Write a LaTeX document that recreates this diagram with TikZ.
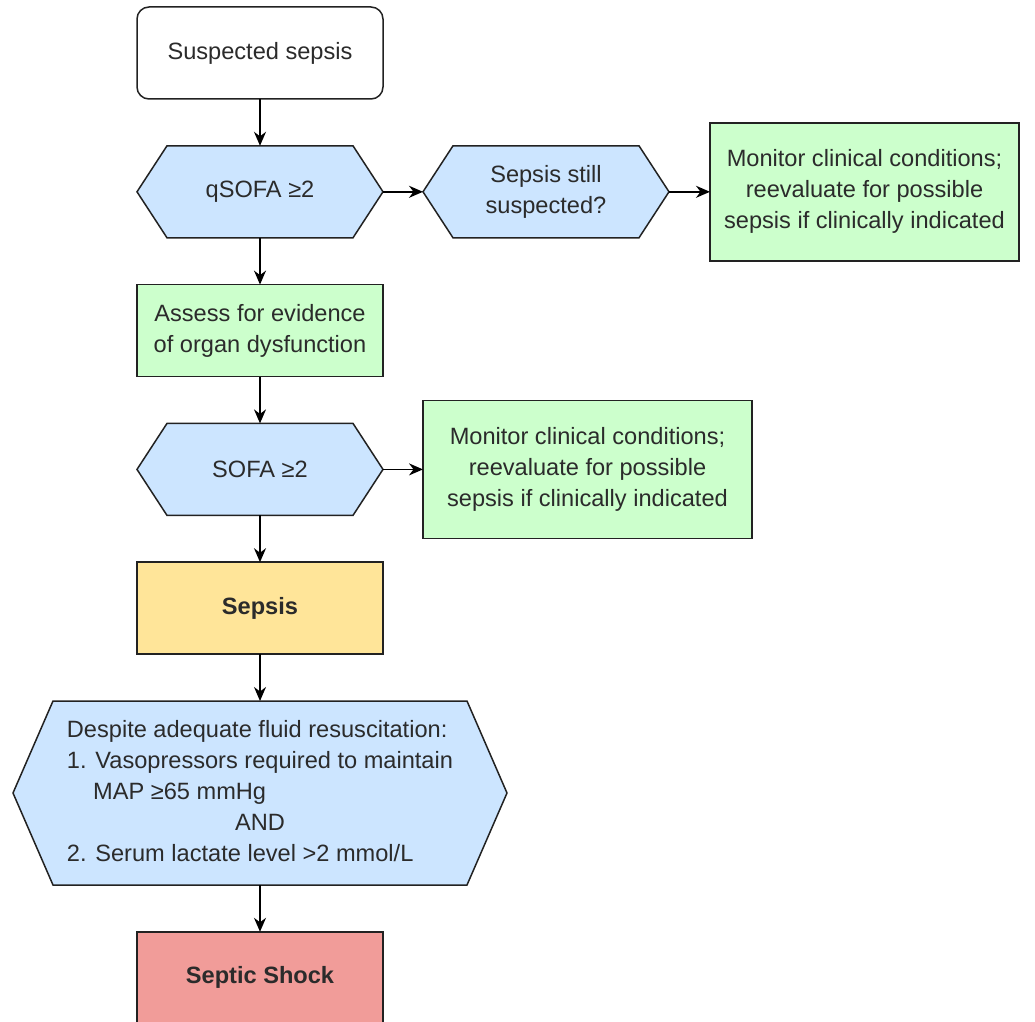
\documentclass[tikz,border=0pt]{standalone}
\usepackage{fontspec}
\setmainfont{Liberation Sans}
\usepackage{xcolor}
\usepackage{tikz}
\usetikzlibrary{positioning, arrows.meta, backgrounds}
\definecolor{decblue}{HTML}{CCE5FF}
\definecolor{actgreen}{HTML}{CCFFCC}
\definecolor{sepyellow}{HTML}{FFE599}
\definecolor{shockred}{HTML}{F19C99}
\definecolor{edgegray}{HTML}{222222}
\definecolor{txtgray}{HTML}{2B2B2B}
% hexagon drawn behind a named node: name, inset
\newcommand{\hexoutline}[2]{%
  \begin{pgfonlayer}{background}
    \draw[edgegray, line width=0.75pt, fill=decblue, line join=miter]
      (#1.west) -- ([xshift=#2]#1.north west) -- ([xshift=-#2]#1.north east)
      -- (#1.east) -- ([xshift=-#2]#1.south east) -- ([xshift=#2]#1.south west) -- cycle;
  \end{pgfonlayer}}

\begin{document}
\begin{tikzpicture}[
  node distance=23.4pt,
  font=\fontsize{11.8pt}{15.5pt}\selectfont,
  base/.style={minimum width=123pt, minimum height=46pt, align=center, text=txtgray, inner sep=2pt, outer sep=0pt},
  startbox/.style={base, draw=edgegray, line width=0.75pt, rounded corners=6pt, fill=white},
  hexbox/.style={base},
  greenbox/.style={base, draw=edgegray, line width=0.75pt, fill=actgreen},
  sepsisbox/.style={base, draw=edgegray, line width=0.75pt, fill=sepyellow, font=\fontsize{11.8pt}{15.5pt}\selectfont\bfseries},
  shockbox/.style={base, draw=edgegray, line width=0.75pt, fill=shockred, font=\fontsize{11.8pt}{15.5pt}\selectfont\bfseries},
  arr/.style={-{Stealth[length=7pt, width=6pt]}, line width=0.8pt, black}
]
  \useasboundingbox (0,0) rectangle (517.5pt,-511pt);

  % Main column
  \node[startbox] (susp) at (130pt,-26.5pt) {Suspected sepsis};
  \node[hexbox, below=of susp] (qsofa) {qSOFA ≥2};
  \node[greenbox, below=of qsofa] (assess) {Assess for evidence\\of organ dysfunction};
  \node[hexbox, below=of assess] (sofa) {SOFA ≥2};
  \node[sepsisbox, below=of sofa] (sepsis) {Sepsis};
  \node[hexbox, minimum width=247pt, minimum height=92pt, below=of sepsis] (crit)
    {\begin{tabular}{@{}l@{}}
      Despite adequate fluid resuscitation:\\
      1. Vasopressors required to maintain\\
      \hphantom{1.~}MAP ≥65 mmHg\\
      \multicolumn{1}{@{}c@{}}{AND}\\
      2. Serum lactate level >2 mmol/L
    \end{tabular}};
  \node[shockbox, below=of crit] (shock) {Septic Shock};

  % Right branches
  \node[hexbox, right=20pt of qsofa] (still) {Sepsis still\\suspected?};
  \node[greenbox, minimum width=154.5pt, minimum height=69pt, right=20.5pt of still] (mon1)
    {Monitor clinical conditions;\\reevaluate for possible\\sepsis if clinically indicated};
  \node[greenbox, minimum width=164.5pt, minimum height=69pt, right=20pt of sofa] (mon2)
    {Monitor clinical conditions;\\reevaluate for possible\\sepsis if clinically indicated};

  \hexoutline{qsofa}{15pt}
  \hexoutline{still}{15pt}
  \hexoutline{sofa}{15pt}
  \hexoutline{crit}{20pt}

  \draw[arr] (susp) -- (qsofa);
  \draw[arr] (qsofa) -- (assess);
  \draw[arr] (assess) -- (sofa);
  \draw[arr] (sofa) -- (sepsis);
  \draw[arr] (sepsis) -- (crit);
  \draw[arr] (crit) -- (shock);
  \draw[arr] (qsofa) -- (still);
  \draw[arr] (still) -- (mon1);
  \draw[arr] (sofa) -- (mon2);
\end{tikzpicture}
\end{document}
